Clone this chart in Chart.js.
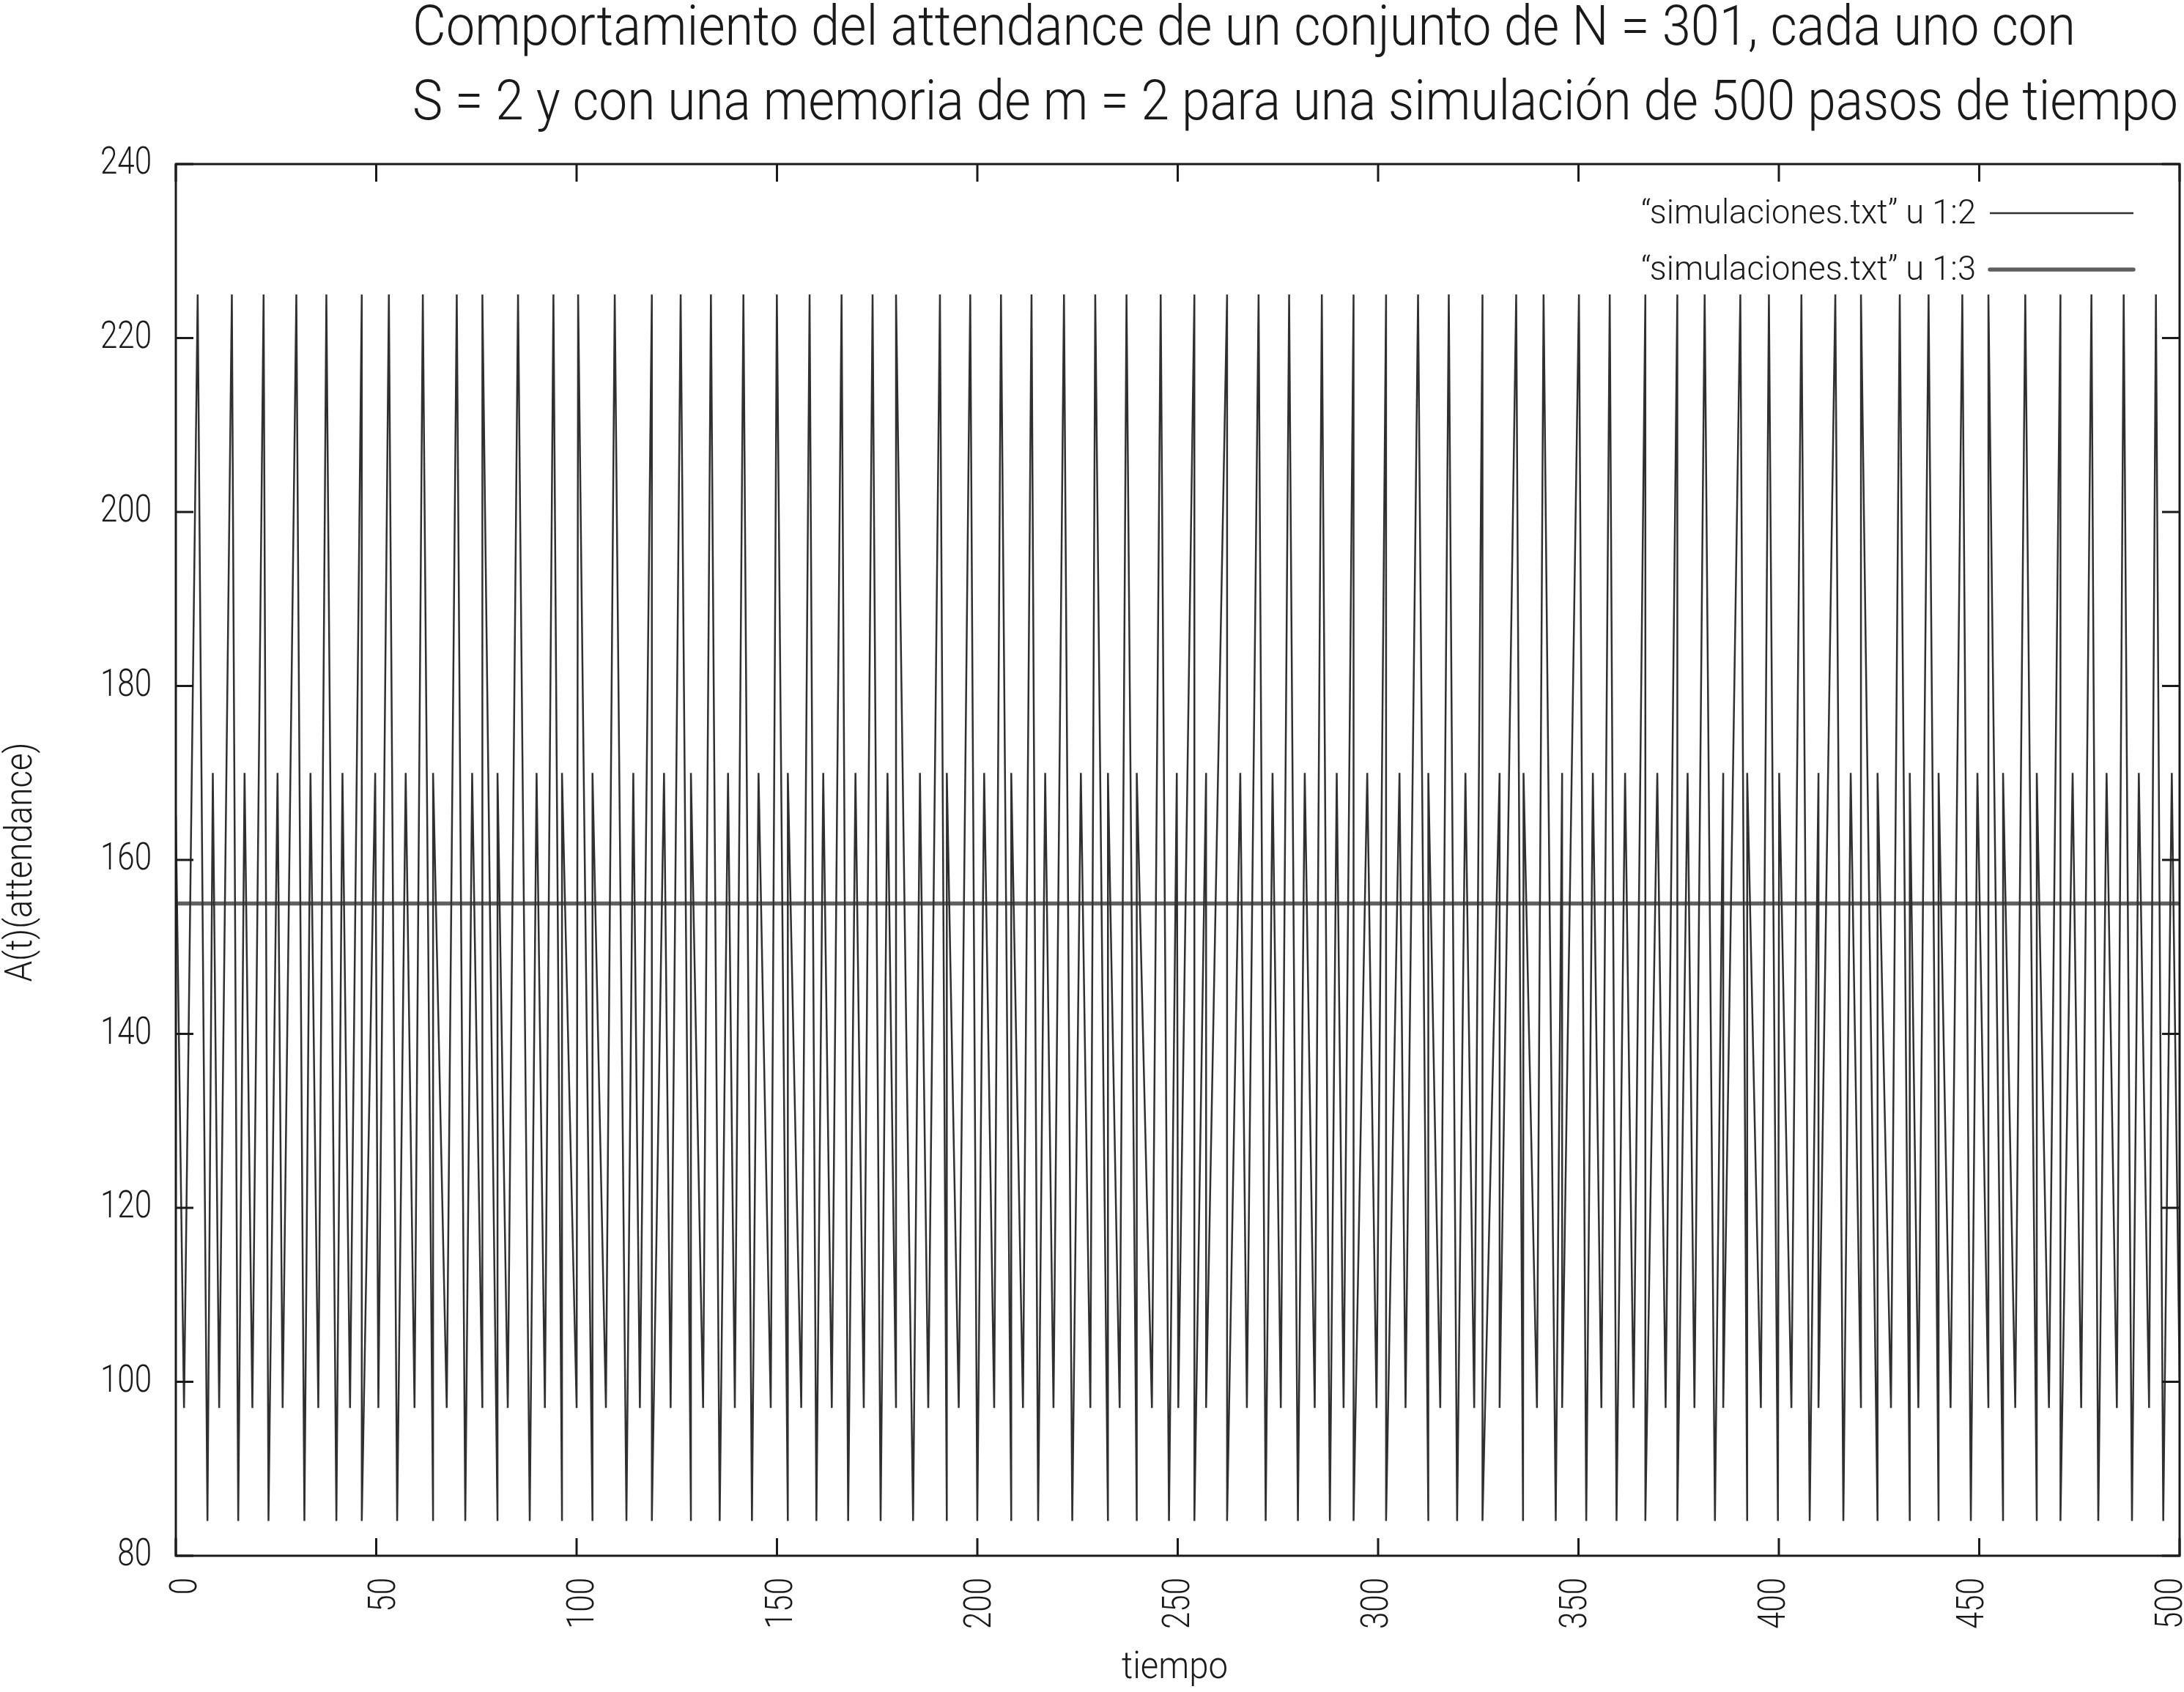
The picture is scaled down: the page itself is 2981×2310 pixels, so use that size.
<!DOCTYPE html>
<html>
<head>
<meta charset="utf-8">
<title>Attendance N = 301</title>
<script src="https://cdn.jsdelivr.net/npm/chart.js@4.4.1/dist/chart.umd.min.js"></script>
<style>
  html, body { margin: 0; padding: 0; background: #fff; }
  canvas { display: block; }
</style>
</head>
<body>
<canvas id="grafica" width="2981" height="2310"></canvas>
<script>
// datos: vertices de la serie u 1:2 (tiempo, attendance)
const tiempo = [
  0, 2.04, 5.45, 7.89, 9.23, 10.81, 13.98, 15.57, 17.15, 19.10,
  21.90, 23.12, 25.38, 26.65, 30.07, 32.08, 33.60, 35.55, 37.56, 40.06,
  41.58, 43.47, 46.40, 46.40, 49.75, 50.54, 53.16, 55.23, 57.36, 59.56,
  61.63, 64.19, 64.19, 67.60, 70.10, 72.23, 73.94, 76.49, 76.49, 80.27,
  80.27, 82.83, 85.39, 88.31, 90.02, 92.09, 94.22, 96.36, 96.36, 100.01,
  100.38, 103.97, 103.97, 107.32, 109.52, 112.44, 114.15, 115.79, 118.78, 118.78,
  121.82, 123.47, 125.97, 128.53, 128.53, 131.57, 133.52, 135.71, 137.79, 139.49,
  141.63, 143.76, 145.40, 148.45, 149.97, 152.71, 152.71, 156.06, 158.14, 159.84,
  161.55, 163.68, 166.12, 167.76, 169.59, 171.66, 173.86, 175.87, 177.58, 179.71,
  179.71, 183.97, 185.68, 187.75, 190.67, 192.38, 192.38, 195.36, 198.23, 199.99,
  201.70, 204.20, 205.90, 208.46, 208.46, 211.39, 213.52, 215.17, 216.93, 219.00,
  221.62, 223.69, 225.83, 228.20, 229.42, 232.59, 232.59, 235.51, 237.22, 239.78,
  239.78, 243.56, 245.75, 247.82, 249.77, 250.14, 254.16, 254.16, 257.08, 257.08,
  262.32, 262.32, 265.61, 267.26, 270.18, 271.95, 273.66, 275.72, 277.80, 279.99,
  281.70, 284.19, 285.96, 287.97, 289.68, 291.39, 293.88, 293.88, 297.29, 299.61,
  301.99, 301.99, 305.34, 306.85, 309.97, 312.53, 312.53, 315.51, 317.64, 319.72,
  321.79, 323.98, 326.05, 326.05, 330.32, 330.32, 334.46, 336.17, 336.29, 339.64,
  341.29, 344.33, 345.92, 345.92, 350.12, 351.94, 353.59, 355.72, 357.80, 359.50,
  361.63, 363.76, 366.69, 366.69, 369.67, 371.75, 374.67, 374.67, 377.23, 378.94,
  381.49, 384.05, 386.12, 386.12, 390.39, 392.10, 392.10, 395.51, 397.52, 399.77,
  400.08, 403.13, 405.63, 407.70, 409.89, 409.89, 414.09, 416.10, 417.93, 420.49,
  420.49, 424.63, 424.63, 427.98, 430.17, 432.67, 432.67, 434.81, 437.36, 439.86,
  439.86, 442.85, 445.78, 447.91, 449.55, 452.29, 452.29, 455.95, 455.95, 458.99,
  461.49, 464.36, 464.36, 467.40, 470.27, 470.27, 473.31, 475.44, 478.00, 479.71,
  481.78, 484.34, 486.05, 488.12, 489.82, 492.38, 494.09, 495.92, 498.05, 500
];
const asistencia = [
  165,
  97, 225, 84, 170, 97, 225, 84, 170, 97, 225, 84, 170, 97, 225, 84, 170,
  97, 225, 84, 170, 97, 225, 84, 170, 97, 225, 84, 170, 97, 225, 84, 170,
  97, 225, 84, 170, 97, 225, 84, 170, 97, 225, 84, 170, 97, 225, 84, 170,
  97, 225, 84, 170, 97, 225, 84, 170, 97, 225, 84, 170, 97, 225, 84, 170,
  97, 225, 84, 170, 97, 225, 84, 170, 97, 225, 84, 170, 97, 225, 84, 170,
  97, 225, 84, 170, 97, 225, 84, 170, 97, 225, 84, 170, 97, 225, 84, 170,
  97, 225, 84, 170, 97, 225, 84, 170, 97, 225, 84, 170, 97, 225, 84, 170,
  97, 225, 84, 170, 97, 225, 84, 170, 97, 225, 84, 170, 97, 225, 84, 170,
  97, 225, 84, 170, 97, 225, 84, 170, 97, 225, 84, 170, 97, 225, 84, 170,
  97, 225, 84, 170, 97, 225, 84, 170, 97, 225, 84, 170, 97, 225, 84, 170,
  97, 225, 84, 170, 97, 225, 84, 170, 97, 225, 84, 170, 97, 225, 84, 170,
  97, 225, 84, 170, 97, 225, 84, 170, 97, 225, 84, 170, 97, 225, 84, 170,
  97, 225, 84, 170, 97, 225, 84, 170, 97, 225, 84, 170, 97, 225, 84, 170,
  97, 225, 84, 170, 97, 225, 84, 170, 97, 225, 84, 170, 97, 225, 84, 170,
  97, 225, 84, 170, 97, 225, 84, 170, 97, 225, 84, 170, 97, 225, 84, 170,
  97, 225, 84, 170, 97, 225, 84, 170,
  100
];
// columna 3: valor constante
const tiempoMedia = [0, 500];
const media = [155, 155];

const etiquetas = ['\u201Csimulaciones.txt\u201D u 1:2', '\u201Csimulaciones.txt\u201D u 1:3'];
const titulo = [
  'Comportamiento del attendance de un conjunto de N = 301, cada uno con',
  'S = 2 y con una memoria de m = 2 para una simulaci\u00f3n de 500 pasos de tiempo'
];
const tituloX = 'tiempo';
const tituloY = 'A(t)(attendance)';
const ticksX = [0, 50, 100, 150, 200, 250, 300, 350, 400, 450, 500];
const ticksY = [80, 100, 120, 140, 160, 180, 200, 220, 240];

const FUENTE = 'Roboto, "Open Sans", sans-serif';
const TINTA = '#1a1a1a';
const TICK = 24;
const ESTRECHO = 0.81;   // la fuente original es condensada

// texto con compresion horizontal; si se da "ancho" se ajusta a ese ancho
function texto(ctx, str, x, y, o){
  ctx.save();
  ctx.font = '300 ' + o.size + 'px ' + FUENTE;
  const k = o.ancho ? o.ancho / ctx.measureText(str).width : (o.k || ESTRECHO);
  ctx.translate(x, y);
  if(o.rot) ctx.rotate(o.rot);
  ctx.scale(k, 1);
  ctx.fillStyle = TINTA;
  ctx.textAlign = o.align || 'left';
  ctx.textBaseline = 'alphabetic';
  ctx.fillText(str, 0, 0);
  ctx.restore();
  return k;
}

// borde, ticks hacia dentro en los cuatro lados y rotulos (estilo gnuplot)
const marco = {
  id: 'marco',
  afterDatasetsDraw(chart){
    const {ctx, chartArea: a, scales: {x, y}} = chart;
    ctx.save();
    ctx.strokeStyle = TINTA;
    ctx.lineWidth = 3;
    ctx.beginPath();
    ticksX.forEach(v => {
      const px = x.getPixelForValue(v);
      ctx.moveTo(px, a.bottom); ctx.lineTo(px, a.bottom - TICK);
      ctx.moveTo(px, a.top); ctx.lineTo(px, a.top + TICK);
    });
    ticksY.forEach(v => {
      const py = y.getPixelForValue(v);
      ctx.moveTo(a.left, py); ctx.lineTo(a.left + TICK, py);
      ctx.moveTo(a.right, py); ctx.lineTo(a.right - TICK, py);
    });
    ctx.stroke();
    ctx.strokeRect(a.left, a.top, a.right - a.left, a.bottom - a.top);
    ctx.restore();

    ticksY.forEach(v => {
      texto(ctx, String(v), a.left - 33, y.getPixelForValue(v) + 13, {size: 52, align: 'right'});
    });
    // los rotulos del eje x se desplazan un poco hacia dentro, como en el original
    ticksX.forEach(v => {
      const desvio = 9.5 - 24.5 * (v - x.min) / (x.max - x.min);
      texto(ctx, String(v), x.getPixelForValue(v) + desvio + 18, a.bottom + 30,
        {size: 52, align: 'right', rot: -Math.PI / 2});
    });
    const cx = (a.left + a.right) / 2, cy = (a.top + a.bottom) / 2;
    texto(ctx, tituloX, cx - 4, 2291, {size: 52, align: 'center', ancho: 145});
    texto(ctx, tituloY, 43, cy + 3, {size: 52, align: 'center', rot: -Math.PI / 2, ancho: 327});
  }
};

// leyenda: texto a la derecha, muestra de linea despues
const leyenda = {
  id: 'leyenda',
  afterDraw(chart){
    const ctx = chart.ctx;
    let k = null;
    chart.data.datasets.forEach((ds, i) => {
      const yy = 291 + i * 77;
      if(k === null) k = texto(ctx, ds.label, 2697, yy + 14, {size: 46, align: 'right', ancho: 457});
      else texto(ctx, ds.label, 2697, yy + 14, {size: 46, align: 'right', k: k});
      ctx.save();
      ctx.strokeStyle = ds.borderColor;
      ctx.lineWidth = ds.borderWidth;
      ctx.lineCap = i ? 'round' : 'butt';
      ctx.beginPath();
      ctx.moveTo(2716, yy);
      ctx.lineTo(2912, yy);
      ctx.stroke();
      ctx.restore();
    });
  }
};

const cabecera = {
  id: 'cabecera',
  afterDraw(chart){
    const ctx = chart.ctx;
    texto(ctx, titulo[0], 563, 61, {size: 76, ancho: 2270});
    texto(ctx, titulo[1], 563, 163, {size: 76, ancho: 2410});
  }
};

new Chart(document.getElementById('grafica'), {
  type: 'line',
  data: {
    datasets: [
      {
        label: etiquetas[0],
        data: tiempo.map((t, i) => ({x: t, y: asistencia[i]})),
        borderColor: '#303030',
        borderWidth: 2.5,
        pointRadius: 0,
        tension: 0
      },
      {
        label: etiquetas[1],
        data: tiempoMedia.map((t, i) => ({x: t, y: media[i]})),
        borderColor: '#606060',
        borderWidth: 5.5,
        pointRadius: 0,
        tension: 0
      }
    ]
  },
  options: {
    responsive: false,
    animation: false,
    devicePixelRatio: 1,
    layout: {padding: {left: 0, top: 224, right: 6, bottom: 0}},
    plugins: {
      legend: {display: false},
      tooltip: {enabled: false},
      title: {display: false}
    },
    scales: {
      x: {
        type: 'linear',
        min: 0, max: 500,
        afterFit(s){ s.height = 186; s.paddingLeft = 0; s.paddingRight = 0; },
        afterBuildTicks(s){ s.ticks = ticksX.map(v => ({value: v})); },
        grid: {display: false, drawTicks: false},
        border: {display: false},
        ticks: {display: false}
      },
      y: {
        type: 'linear',
        min: 80, max: 240,
        afterFit(s){ s.width = 240; s.paddingTop = 0; s.paddingBottom = 0; },
        afterBuildTicks(s){ s.ticks = ticksY.map(v => ({value: v})); },
        grid: {display: false, drawTicks: false},
        border: {display: false},
        ticks: {display: false}
      }
    }
  },
  plugins: [marco, leyenda, cabecera]
});
</script>
</body>
</html>
